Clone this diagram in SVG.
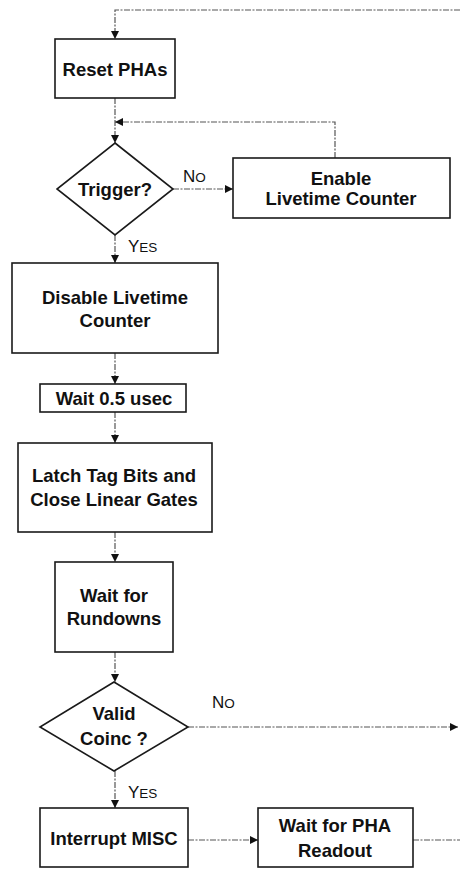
<svg xmlns="http://www.w3.org/2000/svg" width="460" height="869" viewBox="0 0 460 869">
<style>
.box{fill:#fff;stroke:#1a1a1a;stroke-width:1.6}
.t{font-family:"Liberation Sans",Arial,sans-serif;font-size:18.5px;font-weight:bold;fill:#111;text-anchor:middle;dominant-baseline:central}
.lbl{font-family:"Liberation Sans",Arial,sans-serif;font-size:17px;fill:#111}
.sc{font-size:13.5px}
.c{fill:none;stroke:#555;stroke-width:1.2;stroke-dasharray:6 1.5 2 1.5}
</style>
<defs>
<marker id="ah" viewBox="0 0 10 10" refX="10" refY="5" markerWidth="10" markerHeight="8" markerUnits="userSpaceOnUse" orient="auto">
<path d="M0,0 L10,5 L0,10 z" fill="#111"/>
</marker>
</defs>
<rect width="460" height="869" fill="#fff"/>
<g id="connectors">
<path class="c" d="M460,10 H115 V39" marker-end="url(#ah)"/>
<path class="c" d="M115,98 V143" marker-end="url(#ah)"/>
<path class="c" d="M335,158 V122 H115" marker-end="url(#ah)"/>
<path class="c" d="M173,189 H233" marker-end="url(#ah)"/>
<path class="c" d="M115,235 V263" marker-end="url(#ah)"/>
<path class="c" d="M115,353 V384" marker-end="url(#ah)"/>
<path class="c" d="M115,412 V443" marker-end="url(#ah)"/>
<path class="c" d="M115,532 V562" marker-end="url(#ah)"/>
<path class="c" d="M115,652 V682" marker-end="url(#ah)"/>
<path class="c" d="M188,727 H458" marker-end="url(#ah)"/>
<path class="c" d="M115,771 V808" marker-end="url(#ah)"/>
<path class="c" d="M188,840 H258" marker-end="url(#ah)"/>
<path class="c" d="M413,840 H460"/>
<text class="lbl" x="183" y="182">N<tspan class="sc">O</tspan></text>
<text class="lbl" x="128" y="252">Y<tspan class="sc">ES</tspan></text>
<text class="lbl" x="212" y="708">N<tspan class="sc">O</tspan></text>
<text class="lbl" x="128" y="798">Y<tspan class="sc">ES</tspan></text>
</g>
<g id="reset">
<rect class="box" x="55" y="39" width="120" height="59"/>
<text class="t" x="115" y="69">Reset PHAs</text>
</g>
<g id="trigger">
<path class="box" d="M115,143 L173,189 L115,235 L57,189 z"/>
<text class="t" x="115" y="189">Trigger?</text>
</g>
<g id="enable">
<rect class="box" x="233" y="158" width="217" height="60"/>
<text class="t" x="341" y="178">Enable</text>
<text class="t" x="341" y="198">Livetime Counter</text>
</g>
<g id="disable">
<rect class="box" x="12" y="263" width="206" height="90"/>
<text class="t" x="115" y="297">Disable Livetime</text>
<text class="t" x="115" y="320">Counter</text>
</g>
<g id="wait05">
<rect class="box" x="40" y="384" width="146" height="28"/>
<text class="t" x="114" y="398">Wait 0.5 usec</text>
</g>
<g id="latch">
<rect class="box" x="18" y="443" width="194" height="89"/>
<text class="t" x="114" y="475">Latch Tag Bits and</text>
<text class="t" x="114" y="499">Close Linear Gates</text>
</g>
<g id="rundowns">
<rect class="box" x="55" y="562" width="118" height="90"/>
<text class="t" x="114" y="595">Wait for</text>
<text class="t" x="114" y="618">Rundowns</text>
</g>
<g id="valid">
<path class="box" d="M114,682 L188,727 L114,771 L40,727 z"/>
<text class="t" x="114" y="713">Valid</text>
<text class="t" x="114" y="738">Coinc ?</text>
</g>
<g id="interrupt">
<rect class="box" x="40" y="808" width="148" height="59"/>
<text class="t" x="114" y="838">Interrupt MISC</text>
</g>
<g id="waitpha">
<rect class="box" x="258" y="808" width="155" height="59"/>
<text class="t" x="335" y="825">Wait for PHA</text>
<text class="t" x="335" y="850">Readout</text>
</g>
</svg>
